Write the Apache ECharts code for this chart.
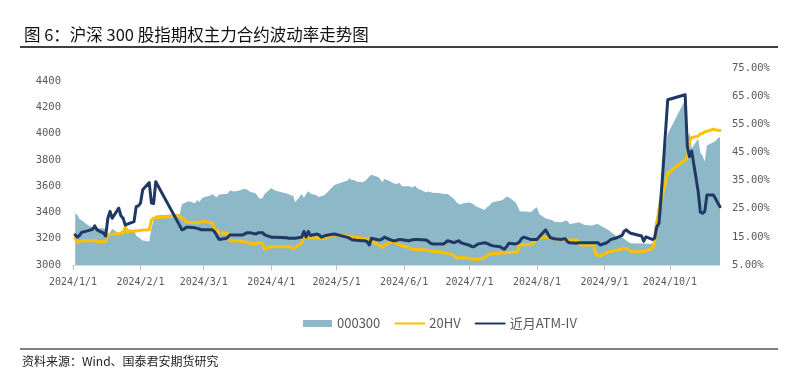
<!DOCTYPE html>
<html>
<head>
<meta charset="utf-8">
<script src="https://cdn.jsdelivr.net/npm/echarts@6/dist/echarts.min.js"></script>
<style>
html,body{margin:0;padding:0;background:#fff;}
#chart{width:797px;height:386px;}
</style>
</head>
<body>
<div id="chart"></div>
<script>
// ---- data ----
const dates = [
'2024-01-02','2024-01-03','2024-01-04','2024-01-05','2024-01-08','2024-01-10','2024-01-11','2024-01-12','2024-01-15','2024-01-16','2024-01-17','2024-01-18','2024-01-19','2024-01-22','2024-01-23','2024-01-24','2024-01-25','2024-01-26','2024-01-29','2024-01-30','2024-01-31',
'2024-02-01','2024-02-02','2024-02-05','2024-02-06','2024-02-07','2024-02-08','2024-02-19','2024-02-20','2024-02-21','2024-02-22','2024-02-23','2024-02-26','2024-02-27','2024-02-28','2024-02-29',
'2024-03-01','2024-03-04','2024-03-05','2024-03-06','2024-03-07','2024-03-08','2024-03-11','2024-03-12','2024-03-13','2024-03-15','2024-03-18','2024-03-19','2024-03-21','2024-03-22','2024-03-25','2024-03-26','2024-03-27','2024-03-28','2024-03-29',
'2024-04-01','2024-04-02','2024-04-03','2024-04-08','2024-04-09','2024-04-10','2024-04-11','2024-04-12','2024-04-15','2024-04-16','2024-04-17','2024-04-18','2024-04-19','2024-04-22','2024-04-23','2024-04-24','2024-04-25','2024-04-26','2024-04-29','2024-04-30',
'2024-05-06','2024-05-07','2024-05-08','2024-05-09','2024-05-10','2024-05-13','2024-05-14','2024-05-15','2024-05-16','2024-05-17','2024-05-20','2024-05-21','2024-05-22','2024-05-23','2024-05-24','2024-05-27','2024-05-28','2024-05-29','2024-05-30','2024-05-31',
'2024-06-03','2024-06-04','2024-06-05','2024-06-06','2024-06-07','2024-06-11','2024-06-12','2024-06-13','2024-06-14','2024-06-17','2024-06-18','2024-06-19','2024-06-20','2024-06-21','2024-06-24','2024-06-25','2024-06-26','2024-06-27','2024-06-28',
'2024-07-01','2024-07-02','2024-07-03','2024-07-04','2024-07-05','2024-07-08','2024-07-09','2024-07-10','2024-07-11','2024-07-12','2024-07-15','2024-07-16','2024-07-17','2024-07-18','2024-07-19','2024-07-22','2024-07-23','2024-07-24','2024-07-25','2024-07-26','2024-07-29','2024-07-30','2024-07-31',
'2024-08-01','2024-08-02','2024-08-05','2024-08-06','2024-08-07','2024-08-08','2024-08-09','2024-08-12','2024-08-13','2024-08-14','2024-08-15','2024-08-16','2024-08-19','2024-08-20','2024-08-21','2024-08-22','2024-08-23','2024-08-26','2024-08-27','2024-08-28','2024-08-29','2024-08-30',
'2024-09-02','2024-09-03','2024-09-04','2024-09-05','2024-09-06','2024-09-09','2024-09-10','2024-09-11','2024-09-12','2024-09-13','2024-09-18','2024-09-19','2024-09-20','2024-09-23','2024-09-24','2024-09-25','2024-09-26','2024-09-27','2024-09-30',
'2024-10-08','2024-10-09','2024-10-10','2024-10-11','2024-10-14','2024-10-15','2024-10-16','2024-10-17','2024-10-18','2024-10-21','2024-10-22','2024-10-23','2024-10-24'
];

// 000300 (CSI 300 index, left axis)
const hs300 = [
3394,3380,3351,3340,3300,3287,3290,3282,3278,3275,3217,3250,3275,3242,3255,3270,3280,3275,3262,3225,3211,
3200,3186,3179,3280,3338,3376,3389,3465,3470,3478,3485,3470,3495,3480,3505,
3516,3530,3541,3525,3516,3536,3541,3545,3567,3560,3570,3579,3575,3560,3545,3516,3505,3510,3540,
3587,3575,3566,3545,3540,3530,3530,3478,3541,3510,3540,3561,3545,3530,3515,3525,3530,3540,3592,3610,
3643,3660,3645,3650,3635,3630,3640,3655,3673,3688,3670,3655,3630,3655,3650,3625,3617,3620,3625,3600,
3600,3595,3590,3605,3585,3554,3560,3555,3550,3548,3545,3543,3541,3540,3500,3480,3465,3460,3470,
3475,3470,3460,3445,3440,3418,3440,3450,3470,3480,3490,3495,3505,3521,3515,3480,3452,3414,3405,3410,3401,3415,3430,
3440,3388,3355,3351,3345,3340,3330,3325,3330,3338,3335,3313,3320,3325,3320,3310,3305,3300,3305,3310,3313,3300,
3275,3265,3250,3237,3225,3211,3200,3186,3175,3166,3163,3165,3161,3161,3300,3380,3500,3640,4000,
4256,3955,4010,3887,3961,3855,3831,3789,3910,3935,3945,3965,3975
];

// 20HV (%, right axis)
const hv20 = [
14.5,13.1,13.3,13.6,13.6,13.6,13.8,13.3,13.3,13.3,15.7,15.8,15.9,16.1,16.3,16.3,18.6,16.9,17.1,17.2,17.2,
17.3,17.4,17.5,21.0,21.6,21.8,22.5,21.6,21.6,20.2,20.2,20.0,20.0,20.0,20.6,
20.6,20.0,20.0,17.5,17.5,16.5,16.3,16.3,13.6,13.6,13.5,13.3,13.0,12.7,12.5,12.9,12.9,12.7,10.6,
11.5,11.5,11.5,11.5,11.5,11.3,10.8,11.2,12.7,14.9,14.9,14.9,14.8,14.6,14.5,14.5,14.5,14.5,15.7,15.7,
15.3,15.2,15.0,14.9,14.8,14.5,14.4,14.3,14.1,13.3,12.3,11.8,11.3,12.0,12.5,13.3,13.0,12.5,12.1,11.8,
11.3,10.8,10.6,10.6,10.5,10.3,10.2,10.0,9.9,9.7,9.6,9.5,9.3,9.2,8.3,7.4,7.5,7.6,7.7,
7.3,7.1,7.0,7.0,7.0,7.6,8.3,8.8,9.0,9.1,9.2,9.3,9.3,9.4,9.4,9.6,9.6,12.1,12.1,12.2,12.3,12.8,13.3,
14.0,14.9,14.9,14.9,14.7,14.5,14.3,14.0,13.9,13.9,13.9,13.9,13.9,13.5,12.1,12.1,12.1,12.1,12.1,8.6,8.5,8.3,
9.3,9.7,9.8,10.0,10.2,10.7,10.9,10.9,10.5,9.7,9.7,9.9,10.0,10.9,13.0,19.5,24.5,27.6,37.6,
42.4,43.0,49.0,50.3,50.8,51.6,51.8,52.3,52.5,53.3,53.0,52.9,52.8
];

// 近月ATM-IV (%, right axis)
const atmIv = [
15.7,14.9,15.5,16.6,17.2,17.7,18.9,17.5,16.3,15.3,21.6,24.0,21.6,25.2,22.5,21.6,19.2,19.5,20.4,25.7,26.0,
27.0,31.7,34.3,27.0,26.8,34.6,19.0,17.5,17.8,18.4,18.4,18.2,18.0,17.8,17.5,
17.5,17.5,17.5,16.8,15.5,14.1,14.4,14.8,15.7,15.7,15.7,15.7,16.5,16.5,16.0,16.5,16.5,16.5,15.7,
14.9,14.9,14.9,14.7,14.5,14.5,14.5,14.5,14.9,16.9,15.0,16.9,15.5,16.0,15.7,14.9,15.2,15.5,15.9,16.0,
14.8,14.5,14.0,13.9,13.8,13.6,13.6,13.3,12.1,14.5,14.0,13.9,14.3,14.9,14.5,13.6,13.6,13.9,14.1,14.0,
13.6,13.8,14.0,14.1,14.1,13.9,13.5,12.8,12.5,12.5,12.5,12.5,13.0,13.6,12.9,13.3,13.6,13.0,12.7,
12.0,11.6,11.5,12.0,12.5,12.9,12.7,12.3,12.0,11.8,11.5,11.0,10.6,11.5,12.7,12.5,12.7,13.3,14.5,14.9,14.1,14.1,14.1,
14.1,15.0,17.5,16.0,14.8,14.5,14.3,14.1,14.2,14.3,13.2,12.9,12.7,12.9,12.9,12.9,12.9,12.9,12.9,12.9,12.9,12.1,
12.9,13.5,14.1,14.3,14.5,15.5,17.0,17.5,16.8,16.3,15.3,13.5,15.0,14.1,14.5,18.6,19.8,29.6,63.7,
65.5,47.1,43.5,45.5,31.0,23.8,23.4,24.0,29.9,29.9,28.5,27.0,25.7
];

const seriesNames = ['000300', '20HV', '近月ATM-IV'];
const xTickDates = ['2024-01-01','2024-02-01','2024-03-01','2024-04-01','2024-05-01','2024-06-01','2024-07-01','2024-08-01','2024-09-01','2024-10-01'];
const xTickLabels = ['2024/1/1','2024/2/1','2024/3/1','2024/4/1','2024/5/1','2024/6/1','2024/7/1','2024/8/1','2024/9/1','2024/10/1'];
const xMin = '2024-01-01';
const xMax = '2024-10-24';
const titleText = '图 6：沪深 300 股指期权主力合约波动率走势图';
const sourceText = '资料来源：Wind、国泰君安期货研究';

// ---- build: dates -> day number since xMin (calendar axis) ----
function dayNum(s) {
  const p = s.split('-').map(Number);
  const q = xMin.split('-').map(Number);
  return Math.round((Date.UTC(p[0], p[1] - 1, p[2]) - Date.UTC(q[0], q[1] - 1, q[2])) / 86400000);
}
const tickDays = xTickDates.map(dayNum);
const pairs = arr => dates.map((d, i) => [dayNum(d), arr[i]]);

const chart = echarts.init(document.getElementById('chart'), null, { renderer: 'canvas' });
const axisFont = 'DejaVu Sans Mono';
const option = {
  backgroundColor: '#ffffff',
  animation: false,
  grid: { left: 73, right: 77, top: 68, bottom: 121, containLabel: false },
  legend: {
    left: 303, top: 317, padding: 0,
    itemWidth: 29, itemHeight: 7, itemGap: 14,
    textStyle: { fontFamily: 'Noto Sans CJK SC', fontSize: 13, color: '#595959' },
    data: [
      { name: seriesNames[0], icon: 'rect' },
      { name: seriesNames[1], itemStyle: { opacity: 0 } },
      { name: seriesNames[2], itemStyle: { opacity: 0 } }
    ]
  },
  xAxis: {
    type: 'value',
    min: dayNum(xMin), max: dayNum(xMax),
    axisLine: { show: true, lineStyle: { color: '#d9d9d9', width: 1 } },
    axisTick: { show: true, customValues: tickDays, length: 5, lineStyle: { color: '#bfbfbf' } },
    splitLine: { show: false },
    axisLabel: {
      customValues: tickDays,
      margin: 12,
      fontFamily: axisFont, fontSize: 10, color: '#595959',
      formatter: function (v) {
        const i = tickDays.indexOf(Math.round(v));
        return i >= 0 ? xTickLabels[i] : '';
      }
    }
  },
  yAxis: [
    {
      type: 'value', min: 3000, max: 4500, interval: 200, position: 'left',
      axisLine: { show: false }, axisTick: { show: false }, splitLine: { show: false },
      axisLabel: { showMaxLabel: false, margin: 12, fontFamily: axisFont, fontSize: 10.5, color: '#595959',
        formatter: v => String(v) }
    },
    {
      type: 'value', min: 5, max: 75, interval: 10, position: 'right',
      axisLine: { show: false }, axisTick: { show: false }, splitLine: { show: false },
      axisLabel: { margin: 12, fontFamily: axisFont, fontSize: 10.5, color: '#595959',
        formatter: v => v.toFixed(2) + '%' }
    }
  ],
  series: [
    {
      name: seriesNames[0], type: 'line', yAxisIndex: 0, data: pairs(hs300),
      symbol: 'none', showSymbol: false,
      itemStyle: { color: '#8db8c7' },
      lineStyle: { width: 0, color: '#8db8c7' },
      areaStyle: { color: '#8db8c7', opacity: 1, origin: 'start' },
      z: 1
    },
    {
      name: seriesNames[1], type: 'line', yAxisIndex: 1, data: pairs(hv20),
      symbol: 'none', showSymbol: false,
      itemStyle: { color: '#ffc000' },
      lineStyle: { width: 3, color: '#ffc000', join: 'round', cap: 'round' },
      z: 2
    },
    {
      name: seriesNames[2], type: 'line', yAxisIndex: 1, data: pairs(atmIv),
      symbol: 'none', showSymbol: false,
      itemStyle: { color: '#203864' },
      lineStyle: { width: 3, color: '#203864', join: 'round', cap: 'round' },
      z: 3
    }
  ],
  graphic: [
    { type: 'text', left: 24, top: 26, style: { text: titleText, fontFamily: 'Noto Sans CJK SC', fontSize: 16.5, fill: '#111' } },
    { type: 'line', shape: { x1: 20, y1: 47, x2: 778, y2: 47 }, style: { stroke: '#000', lineWidth: 1.5 } },
    { type: 'line', shape: { x1: 20, y1: 349, x2: 778, y2: 349 }, style: { stroke: '#000', lineWidth: 1 } },
    { type: 'text', left: 22, top: 355, style: { text: sourceText, fontFamily: 'Noto Sans CJK SC', fontSize: 12, fill: '#222' } }
  ]
};
chart.setOption(option);
</script>
</body>
</html>
